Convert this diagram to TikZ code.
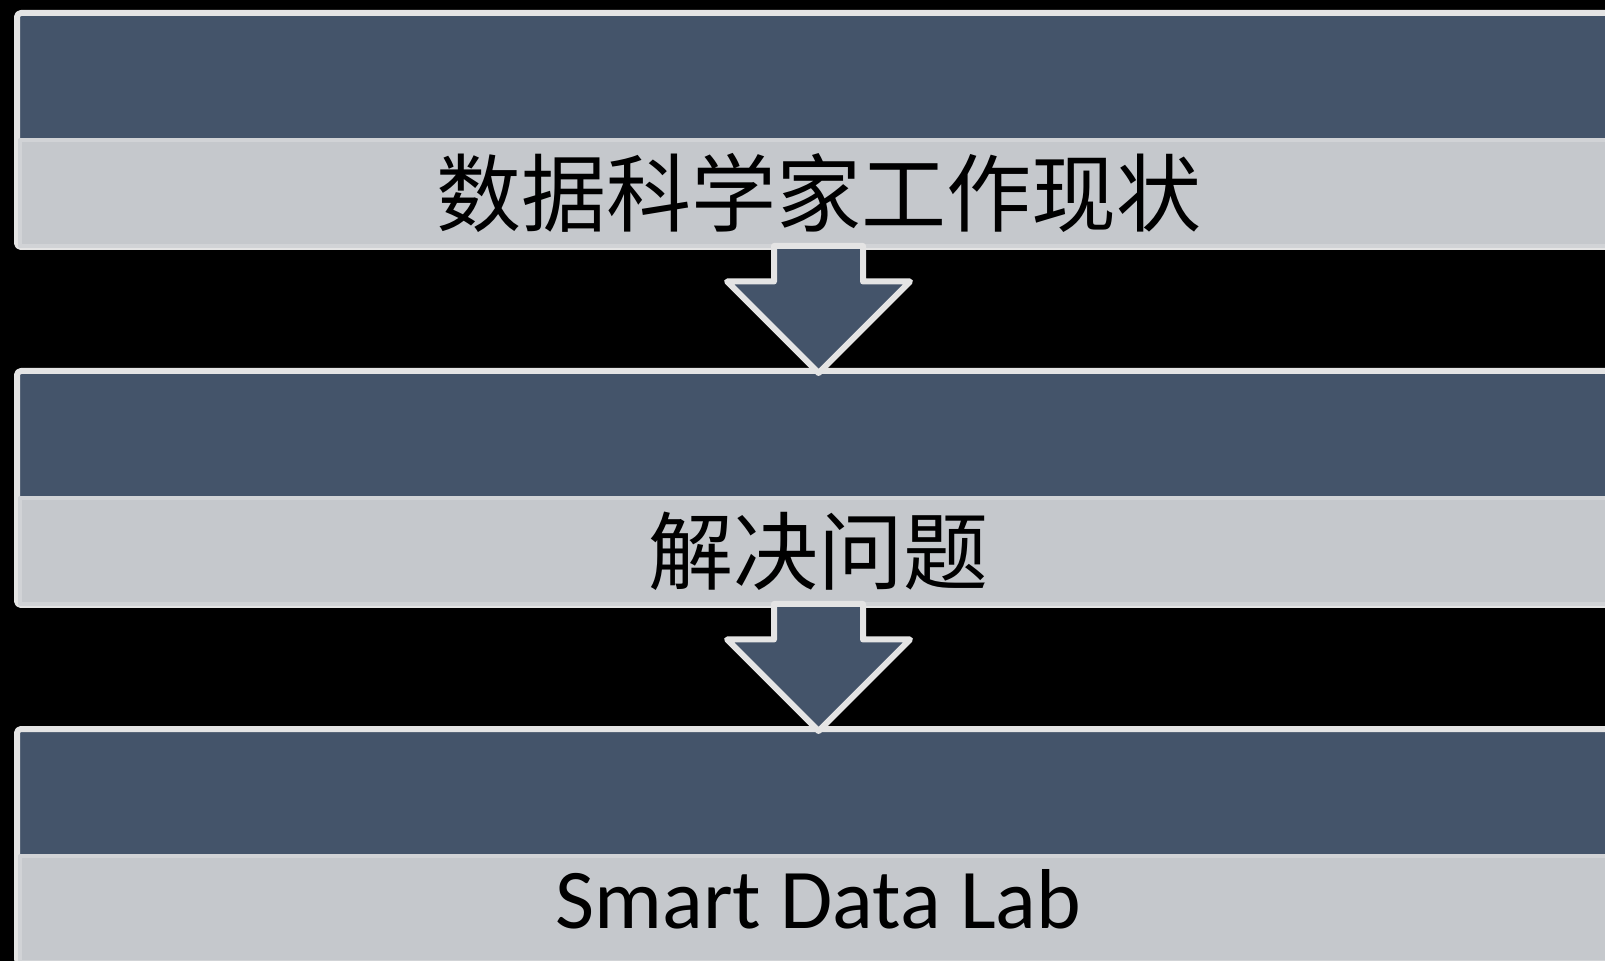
\documentclass[tikz,border=0pt]{standalone}
\usepackage{fontspec}
\setmainfont{Carlito}
\newfontfamily\cjk{Noto Sans CJK SC}
\usetikzlibrary{calc}
\definecolor{slate}{HTML}{44546A}
\definecolor{paleslate}{HTML}{C5C8CC}
\definecolor{rim}{HTML}{E4E4E4}
\definecolor{innerrim}{HTML}{D1D3D6}
\begin{document}
\begin{tikzpicture}[x=0.5pt,y=-0.5pt, line join=round,
        barbox/.style={draw=rim,fill=slate,line width=3pt,rounded corners=2pt,minimum width=801.5pt,minimum height=117pt,inner sep=0pt,outer sep=0pt},
        textbox/.style={draw=innerrim,fill=paleslate,line width=2pt,minimum width=798.5pt,minimum height=53pt,inner sep=0pt,outer sep=0pt},
        rowtext/.style={inner sep=0pt,font=\fontsize{42.5}{50}\selectfont,text height=0.75em,text depth=0.05em},
        blockarrow/.style={draw=rim,fill=slate,line width=3pt}]
                \fill[black] (0,0) rectangle (1605,961);
                \useasboundingbox (0,0) rectangle (1605,961);
                \foreach \dy/\name/\sh/\txt in {0/status/26/{\cjk 数据科学家工作现状},358/solve/26/{\cjk 解决问题},716/lab/12.5/{Smart Data Lab}}{
                    \node[barbox] (\name-bg) at (818.5,130+\dy) {};
                    \node[textbox] (\name) at (818.5,193+\dy) {};
                    \node[rowtext] (\name-text) at ($(\name)+(0,\sh)$) {\txt};
                }
                % block arrows between the rows
                \foreach \a/\b in {status/solve-bg,solve/lab-bg}
                    \draw[blockarrow] ($(\a.south)+(-44.5,0)$) -- ($(\b.north)+(-44.5,-89.5)$) -- ++(-47,0)
                        -- ($(\b.north)+(0,2)$) -- ++(91.5,-91.5) -- ++(-47,0) -- ($(\a.south)+(44.5,0)$) -- cycle;
            \end{tikzpicture}
\end{document}
